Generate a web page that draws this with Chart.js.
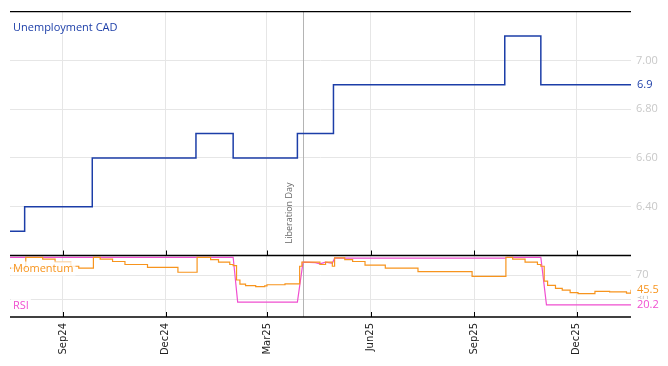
<!DOCTYPE html>
<html><head><meta charset="utf-8">
<script src="https://cdn.jsdelivr.net/npm/chart.js@4.4.0/dist/chart.umd.min.js"></script>
<style>html,body{margin:0;padding:0;background:#fff}#wrap{width:668px;height:366px}</style>
</head><body><div id="wrap"><canvas id="c" width="668" height="366"></canvas></div>
<script>
// ---- data ----
const unempDates = ["2024-07-16","2024-07-29","2024-09-27","2024-12-28","2025-01-30","2025-03-28","2025-04-29","2025-09-28","2025-10-30","2026-01-18"];
const unempValues = [6.3, 6.4, 6.6, 6.7, 6.6, 6.7, 6.9, 7.1, 6.9, 6.9];

const momentumDates = ["2024-07-16","2024-07-30","2024-08-14","2024-08-25","2024-09-08","2024-09-15","2024-09-28","2024-10-04","2024-10-15","2024-10-26","2024-11-15","2024-12-12","2024-12-29",
  "2025-01-10","2025-01-17","2025-01-27","2025-01-30","2025-02-02","2025-02-05","2025-02-10","2025-02-19","2025-02-27","2025-03-01","2025-03-17","2025-03-30","2025-04-01","2025-04-13","2025-04-17","2025-04-22","2025-04-28","2025-04-30",
  "2025-05-09","2025-05-16","2025-05-27","2025-06-14","2025-07-13","2025-08-30","2025-09-29","2025-10-05","2025-10-16","2025-10-27","2025-10-30","2025-11-02","2025-11-05","2025-11-12","2025-11-18","2025-11-25","2025-12-02","2025-12-13","2025-12-17","2025-12-30","2026-01-14","2026-01-18"];
const momentumValues = [82, 100, 97, 92, 85, 82, 100, 97, 93, 88, 83, 75, 100,
  96, 92, 88, 86, 62, 55, 52.5, 51, 52, 54, 55.5, 85, 92, 92, 88, 92, 85, 99,
  96, 93, 87, 82, 76, 68, 100, 97, 92, 88, 85, 60, 53, 48, 45, 41, 39, 39, 43, 42, 40, 45.5];

const rsiDates = ["2024-07-16","2025-01-30","2025-02-03","2025-03-28","2025-04-02","2025-04-13","2025-04-17","2025-04-22","2025-04-28","2025-04-30","2025-09-28","2025-09-30","2025-10-30","2025-11-04","2026-01-18"];
const rsiValues = [100, 100, 25, 25, 92, 91, 89, 92, 90, 98.5, 98.5, 100, 100, 20.2, 20.2];

const xTickDates = ["2024-09-01","2024-12-01","2025-03-01","2025-06-01","2025-09-01","2025-12-01"];
const xTickLabels = ["Sep24","Dec24","Mar25","Jun25","Sep25","Dec25"];
const unempTicks = [6.4, 6.6, 6.8, 7.0];
const oscTicks = [30, 70];
const eventDate = "2025-04-02";
const eventLabel = "Liberation Day";

// ---- helpers ----
const t = s => Date.parse(s + "T00:00:00Z");
const pts = (ds, vs) => ds.map((d, i) => ({x: t(d), y: vs[i]}));

const BLUE = '#1c3ea8', ORANGE = '#f7941d', PINK = '#f04fd0';
const SANS = "'Open Sans', 'Noto Sans', sans-serif";

const decor = {
  id: 'decor',
  beforeDatasetsDraw(chart) {
    const {ctx, chartArea, scales} = chart;
    const x = Math.round(scales.x.getPixelForValue(t(eventDate))) + 0.5;
    ctx.save();
    ctx.strokeStyle = '#b4b4b4'; ctx.lineWidth = 1;
    ctx.beginPath(); ctx.moveTo(x, chartArea.top); ctx.lineTo(x, chartArea.bottom); ctx.stroke();
    ctx.translate(x - 14, scales.y.bottom - 12);
    ctx.rotate(-Math.PI / 2);
    ctx.font = "9px " + SANS; ctx.fillStyle = '#666'; ctx.textAlign = 'left'; ctx.textBaseline = 'middle';
    ctx.fillText(eventLabel, 0, 0);
    ctx.restore();
  },
  afterDatasetsDraw(chart) {
    const {ctx, chartArea, scales} = chart;
    const L = chartArea.left, R = chartArea.right;
    ctx.save();
    // panel borders
    ctx.strokeStyle = '#000'; ctx.lineWidth = 1.3;
    [scales.y.top, scales.y2.top, scales.y2.bottom].forEach(yy => {
      ctx.beginPath(); ctx.moveTo(L, yy); ctx.lineTo(R, yy); ctx.stroke();
    });
    ctx.lineWidth = 1;
    scales.x.ticks.forEach(tk => {
      const px = Math.round(scales.x.getPixelForValue(tk.value)) + 0.5;
      [scales.y2.top, scales.y2.bottom].forEach(yy => {
        ctx.beginPath(); ctx.moveTo(px, yy); ctx.lineTo(px, yy - 5); ctx.stroke();
      });
    });
    // panel titles
    ctx.font = "11px " + SANS; ctx.textBaseline = 'middle'; ctx.textAlign = 'left';
    const label = (txt, col, yy, bg) => {
      const w = ctx.measureText(txt).width;
      if (bg) { ctx.fillStyle = 'rgba(255,255,255,0.8)'; ctx.fillRect(L + 1, yy - 7, w + 4, 14); }
      ctx.fillStyle = col; ctx.fillText(txt, L + 3, yy);
    };
    label("Unemployment CAD", BLUE, scales.y.top + 16, true);
    label("Momentum", ORANGE, scales.y2.top + 13, true);
    label("RSI", PINK, scales.y2.bottom - 11, true);
    // last value labels
    const lastLab = (txt, col, sc, v) => {
      const yy = sc.getPixelForValue(v);
      const w = ctx.measureText(txt).width;
      ctx.fillStyle = '#fff'; ctx.fillRect(R + 4, yy - 6, w + 4, 12);
      ctx.fillStyle = col; ctx.fillText(txt, R + 6, yy);
    };
    lastLab(String(unempValues[unempValues.length - 1]), BLUE, scales.y, unempValues[unempValues.length - 1]);
    lastLab(String(momentumValues[momentumValues.length - 1]), ORANGE, scales.y2, momentumValues[momentumValues.length - 1]);
    lastLab(String(rsiValues[rsiValues.length - 1]), PINK, scales.y2, rsiValues[rsiValues.length - 1]);
    ctx.restore();
  }
};

new Chart(document.getElementById('c'), {
  type: 'line',
  data: {
    datasets: [
      {label: 'Unemployment CAD', data: pts(unempDates, unempValues), yAxisID: 'y', borderColor: BLUE, borderWidth: 1.5, stepped: 'before', pointRadius: 0, fill: false},
      {label: 'Momentum', data: pts(momentumDates, momentumValues), yAxisID: 'y2', borderColor: ORANGE, borderWidth: 1.2, stepped: 'before', pointRadius: 0, fill: false},
      {label: 'RSI', data: pts(rsiDates, rsiValues), yAxisID: 'y2', borderColor: PINK, borderWidth: 1.2, pointRadius: 0, fill: false}
    ]
  },
  options: {
    responsive: false, animation: false, devicePixelRatio: 1,
    layout: {autoPadding: false, padding: {left: 10, top: 9, right: 0, bottom: 0}},
    plugins: {legend: {display: false}, tooltip: {enabled: false}},
    scales: {
      x: {
        type: 'linear', position: 'bottom',
        min: t(unempDates[0]), max: t(unempDates[unempDates.length - 1]),
        afterBuildTicks: s => { s.ticks = xTickDates.map(d => ({value: t(d)})); },
        afterFit: s => { s.height = 49; },
        ticks: {autoSkip: false, minRotation: 90, maxRotation: 90, padding: 6, color: '#222',
          font: {family: "'DejaVu Sans', sans-serif", size: 10},
          callback: (v, i) => xTickLabels[i]},
        grid: {color: '#e6e6e6', drawTicks: false},
        border: {display: false}
      },
      y: {
        type: 'linear', position: 'right', stack: 'panels', stackWeight: 246, weight: 1,
        min: 6.2, max: 7.2,
        afterBuildTicks: s => { s.ticks = unempTicks.map(v => ({value: v})); },
        afterFit: s => { s.width = 37; },
        ticks: {color: '#c8c8c8', padding: 5, font: {family: SANS, size: 11}, callback: v => v.toFixed(2)},
        grid: {color: '#e6e6e6', drawTicks: false},
        border: {display: false}
      },
      y2: {
        type: 'linear', position: 'right', stack: 'panels', stackWeight: 62, weight: 2,
        min: 0, max: 103,
        afterBuildTicks: s => { s.ticks = oscTicks.map(v => ({value: v})); },
        afterFit: s => { s.width = 37; },
        ticks: {color: '#c8c8c8', padding: 5, font: {family: SANS, size: 11}, callback: v => String(v)},
        grid: {color: '#e6e6e6', drawTicks: false},
        border: {display: false}
      }
    }
  },
  plugins: [decor]
});
</script>
</body></html>
